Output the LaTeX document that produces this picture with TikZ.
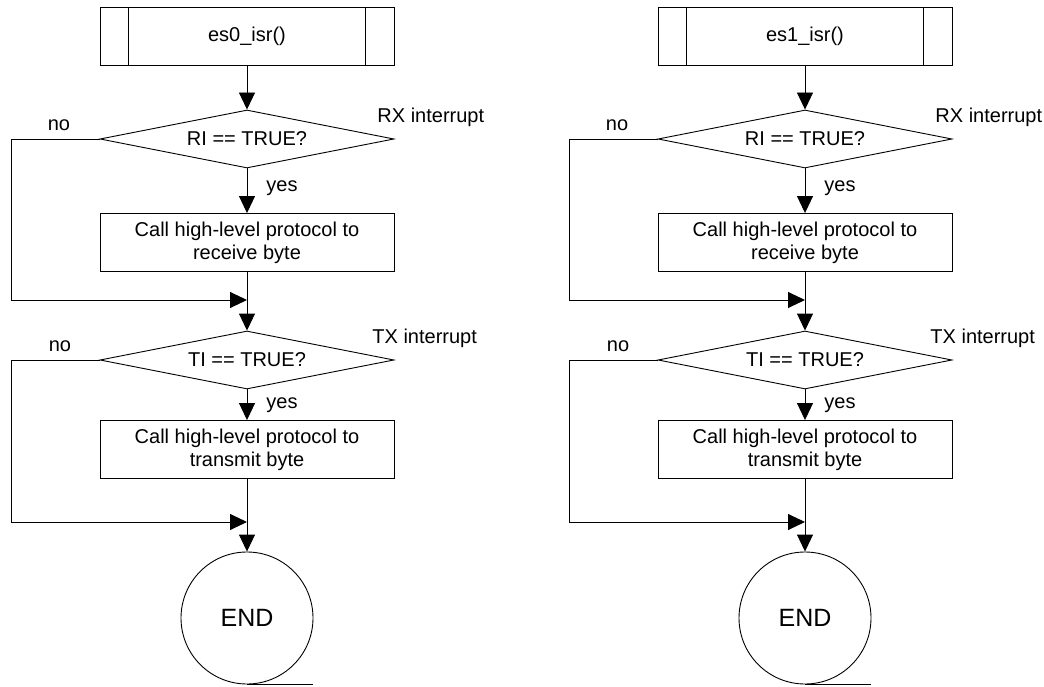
\documentclass[tikz,border=0pt]{standalone}
\usepackage{fontspec}
\setmainfont{Liberation Sans}
\usetikzlibrary{shapes.geometric,arrows.meta,calc}
\begin{document}
\begin{tikzpicture}[x=1pt,y=-1pt,line width=0.9pt,
  every node/.style={font=\fontsize{20}{23}\selectfont},
  procbox/.style={draw,rectangle,minimum width=294pt,minimum height=58pt,inner sep=0pt,align=center},
  decbox/.style={draw,diamond,aspect=5.07,minimum width=294pt,minimum height=58pt,inner sep=0pt},
  endbox/.style={draw,circle,minimum size=132pt,inner sep=0pt,font=\fontsize{25}{28}\selectfont},
  lbl/.style={inner sep=0pt},
  arr/.style={-{Triangle[width=16pt,length=17pt]}}]
\useasboundingbox (0,0) rectangle (1044,687);
\foreach \i/\dx/\fn in {0/0/es0\_isr(),1/558/es1\_isr()}{
\begin{scope}[xshift=\dx pt]
  \node[procbox] (t\i) at (247,36) {\fn};
  \draw ([xshift=29pt]t\i.north west) -- ([xshift=29pt]t\i.south west);
  \draw ([xshift=-29pt]t\i.north east) -- ([xshift=-29pt]t\i.south east);
  \node[decbox] (da\i) at (247,139) {RI == TRUE?};
  \node[procbox] (ba\i) at (247,242.5) {Call high-level protocol to\\receive byte};
  \coordinate (ma\i) at (247,300);
  \node[decbox] (db\i) at (247,360) {TI == TRUE?};
  \node[procbox] (bb\i) at (247,449.5) {Call high-level protocol to\\transmit byte};
  \coordinate (mb\i) at (247,522);
  \node[endbox] (e\i) at (247,618) {END};
  \draw (e\i.south) -- ++(66,0);
  % labels
  \node[lbl] (noa\i) at (59,125) {no};
  \node[lbl,anchor=west] (rx\i) at (377,117) {RX interrupt};
  \node[lbl,anchor=west] (yesa\i) at (266,188) {yes};
  \node[lbl] (nob\i) at (60,346) {no};
  \node[lbl,anchor=west] (tx\i) at (372,338) {TX interrupt};
  \node[lbl,anchor=west] (yesb\i) at (266,405) {yes};
  % connectors
  \draw[arr] (t\i) -- (da\i);
  \draw[arr] (da\i) -- (ba\i);
  \draw (ba\i) -- (ma\i);
  \draw[arr] (da\i.west) -- ++(-88,0) |- (ma\i);
  \draw[arr] (ma\i) -- (db\i);
  \draw[arr] (db\i) -- (bb\i);
  \draw (bb\i) -- (mb\i);
  \draw[arr] (db\i.west) -- ++(-88,0) |- (mb\i);
  \draw[arr] (mb\i) -- (e\i);
\end{scope}}
\end{tikzpicture}
\end{document}
